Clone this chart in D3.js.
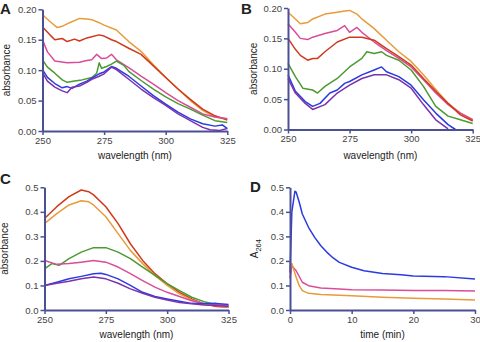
<!DOCTYPE html>
<html><head><meta charset="utf-8">
<script src="https://cdn.jsdelivr.net/npm/d3@7"></script>
<style>
body{margin:0;background:#fff;}
svg{display:block;font-family:Arial,"Liberation Sans",sans-serif;}
</style></head>
<body><svg id="c" width="480" height="342"></svg>
<script>
// ---------- DATA ----------
const colors = {orange:"#e89b3a", red:"#cf3a1c", pink:"#d94d98", green:"#4c9a32", blue:"#2b3be0", purple:"#7a32b0"};

// Panel A (wavelength nm, absorbance)
const A_orange=[[250,.191],[253,.180],[256,.170],[258,.172],[261,.178],[265,.185],[268,.184],[270,.183],[273,.178],[275,.174],[280,.166],[285,.147],[290,.131],[295,.109],[300,.088],[305,.069],[310,.050],[315,.034],[320,.023],[325,.020]];
const A_red=[[250,.171],[253,.158],[255,.150],[258,.152],[260,.147],[263,.151],[265,.148],[268,.153],[270,.155],[273,.158],[275,.156],[278,.150],[280,.147],[285,.136],[290,.126],[295,.107],[300,.088],[305,.069],[310,.052],[315,.036],[320,.025],[325,.018]];
const A_pink=[[250,.150],[252,.130],[255,.115],[260,.112],[265,.113],[268,.116],[270,.117],[272,.126],[274,.119],[276,.120],[278,.126],[280,.117],[285,.104],[290,.090],[295,.077],[300,.063],[305,.050],[310,.039],[315,.028],[320,.023],[325,.020]];
const A_green=[[250,.117],[252,.105],[255,.095],[258,.084],[260,.080],[263,.082],[266,.084],[270,.088],[272,.095],[273,.112],[274,.103],[276,.106],[278,.110],[280,.115],[283,.108],[285,.098],[290,.083],[295,.069],[300,.056],[305,.045],[310,.036],[315,.026],[320,.017],[325,.014]];
const A_blue=[[250,.101],[252,.088],[255,.078],[258,.071],[260,.073],[262,.070],[265,.077],[268,.082],[270,.087],[273,.094],[275,.097],[278,.106],[280,.103],[285,.090],[290,.074],[295,.058],[300,.044],[305,.031],[310,.020],[315,.012],[320,.008],[323,.010],[325,.004]];
const A_purple=[[250,.096],[252,.082],[255,.072],[258,.066],[260,.063],[262,.072],[265,.074],[268,.080],[270,.085],[273,.090],[275,.094],[278,.105],[280,.101],[285,.085],[290,.069],[295,.055],[300,.042],[305,.028],[310,.017],[315,.006],[318,.002],[322,.001],[325,.004]];

// Panel B
const B_orange=[[250,.193],[253,.182],[255,.174],[258,.176],[260,.182],[265,.190],[270,.193],[273,.195],[275,.196],[278,.190],[280,.182],[285,.166],[290,.147],[295,.128],[300,.112],[305,.090],[310,.066],[315,.043],[320,.027],[325,.016]];
const B_pink=[[250,.174],[253,.160],[255,.150],[258,.148],[260,.152],[265,.158],[270,.163],[273,.171],[275,.160],[278,.168],[280,.160],[285,.144],[290,.130],[295,.117],[300,.103],[305,.082],[310,.060],[315,.041],[320,.027],[325,.016]];
const B_red=[[250,.150],[253,.132],[255,.122],[258,.114],[260,.117],[262,.117],[265,.128],[270,.144],[275,.152],[280,.152],[285,.147],[290,.133],[295,.120],[300,.106],[305,.084],[310,.063],[315,.043],[320,.024],[325,.014]];
const B_green=[[250,.109],[253,.087],[256,.068],[260,.065],[262,.060],[265,.071],[270,.084],[275,.103],[280,.117],[282,.128],[285,.125],[288,.128],[290,.122],[295,.114],[300,.098],[305,.071],[310,.038],[315,.022],[320,.016],[325,.010]];
const B_blue=[[250,.090],[253,.063],[257,.046],[260,.038],[263,.043],[267,.060],[270,.065],[273,.076],[275,.079],[280,.090],[285,.098],[288,.103],[290,.095],[295,.087],[300,.073],[305,.049],[310,.027],[315,.008],[318,.000]];
const B_purple=[[250,.084],[253,.060],[257,.043],[260,.033],[265,.041],[270,.060],[275,.073],[280,.084],[285,.090],[290,.090],[295,.082],[300,.068],[305,.041],[310,.016],[315,.001]];

// Panel C
const C_red=[[250,.373],[255,.421],[260,.462],[265,.489],[268,.482],[270,.469],[275,.421],[280,.352],[285,.270],[290,.202],[295,.148],[300,.107],[305,.072],[310,.045],[315,.025],[320,.014],[325,.011]];
const C_orange=[[250,.352],[255,.393],[260,.428],[265,.445],[268,.441],[270,.428],[275,.380],[280,.311],[285,.243],[290,.189],[295,.141],[300,.100],[305,.066],[310,.041],[315,.025],[320,.018],[325,.011]];
const C_green=[[250,.168],[253,.189],[256,.182],[260,.209],[265,.236],[270,.254],[275,.254],[280,.236],[285,.209],[290,.175],[295,.141],[300,.107],[305,.079],[310,.052],[315,.034],[320,.022],[325,.018]];
const C_pink=[[250,.202],[255,.186],[260,.189],[265,.195],[270,.202],[275,.195],[280,.175],[285,.148],[290,.120],[295,.093],[300,.072],[305,.055],[310,.038],[315,.027],[320,.022],[325,.018]];
const C_blue=[[250,.100],[255,.113],[260,.127],[265,.137],[270,.148],[273,.150],[275,.145],[280,.127],[285,.100],[290,.072],[295,.055],[300,.045],[305,.036],[310,.027],[315,.025],[320,.027],[325,.022]];
const C_purple=[[250,.100],[255,.109],[260,.117],[265,.127],[270,.134],[275,.127],[280,.109],[285,.086],[290,.068],[295,.052],[300,.041],[305,.031],[310,.025],[315,.020],[320,.018],[325,.014]];

// Panel D (time min, A264)
const D_blue=[[0,.15],[0.3,.40],[0.8,.484],[1,.48],[1.5,.439],[2,.391],[3,.337],[4,.296],[5,.262],[6,.235],[7,.212],[8,.194],[10,.174],[12,.160],[15,.149],[18,.144],[20,.139],[25,.136],[30,.126]];
const D_pink=[[0,.13],[0.3,.18],[1,.160],[2,.113],[3,.099],[5,.090],[8,.086],[10,.083],[15,.082],[20,.079],[25,.079],[30,.077]];
const D_orange=[[0,.15],[0.3,.19],[1,.133],[1.5,.099],[2,.079],[3,.068],[5,.063],[10,.058],[15,.052],[20,.048],[25,.045],[30,.041]];

const ticksA=[0,0.05,0.10,0.15,0.20], ticksC=[0,0.1,0.2,0.3,0.4,0.5];
const ticksWl=[250,275,300,325], ticksT=[0,10,20,30];

// ---------- DRAW ----------
const svg=d3.select("#c");
const axisCol="#4a4f96", labCol="#444", titleCol="#222";

function panel(cfg){
  const g=svg.append("g");
  const x=d3.scaleLinear().domain(cfg.xd).range(cfg.xr);
  const y=d3.scaleLinear().domain(cfg.yd).range(cfg.yr);
  const line=d3.line().x(d=>x(d[0])).y(d=>y(d[1]));
  cfg.series.forEach(s=>{
    g.append("path").attr("d",line(s.data)).attr("fill","none")
     .attr("stroke",colors[s.c]).attr("stroke-width",1.5).attr("stroke-linejoin","round");
  });
  const xa=g.append("g").attr("transform",`translate(0,${cfg.yr[0]})`)
    .call(d3.axisBottom(x).tickValues(cfg.xt).tickSizeInner(4).tickSizeOuter(0).tickPadding(2).tickFormat(d3.format("d")));
  const ya=g.append("g").attr("transform",`translate(${cfg.xr[0]},0)`)
    .call(d3.axisLeft(y).tickValues(cfg.yt).tickSizeInner(4).tickSizeOuter(0).tickPadding(2).tickFormat(d3.format(cfg.yf)));
  [xa,ya].forEach(a=>{
    a.select(".domain").attr("stroke",axisCol).attr("stroke-width",2);
    a.selectAll(".tick line").attr("stroke",axisCol).attr("stroke-width",1.5);
    a.selectAll(".tick text").attr("fill",labCol).style("font-size","9.5px").style("font-family","Arial, 'Liberation Sans', sans-serif");
  });
  g.append("text").attr("x",(cfg.xr[0]+cfg.xr[1])/2).attr("y",cfg.xlY)
   .attr("text-anchor","middle").attr("fill",titleCol).style("font-size","10px").text(cfg.xl);
  const yl=g.append("text").attr("transform",`translate(${cfg.ylX},${(cfg.yr[0]+cfg.yr[1])/2}) rotate(-90)`)
   .attr("text-anchor","middle").attr("fill",titleCol).style("font-size","10px");
  if(cfg.ylSub){ yl.append("tspan").text(cfg.yl); yl.append("tspan").attr("dy",3).style("font-size","7.5px").text(cfg.ylSub); }
  else yl.text(cfg.yl);
  g.append("text").attr("x",cfg.lx).attr("y",cfg.ly).attr("fill",titleCol)
   .style("font-size","15px").style("font-weight","bold").text(cfg.letter);
}

panel({letter:"A",lx:0,ly:14,xd:[250,325],xr:[42.5,227.3],yd:[0,0.2],yr:[131,9.3],xt:ticksWl,yt:ticksA,yf:".2f",
  xl:"wavelength (nm)",xlY:159,yl:"absorbance",ylX:10,
  series:[{c:"orange",data:A_orange},{c:"red",data:A_red},{c:"pink",data:A_pink},{c:"green",data:A_green},{c:"blue",data:A_blue},{c:"purple",data:A_purple}]});
panel({letter:"B",lx:241,ly:14,xd:[250,325],xr:[288,472.7],yd:[0,0.2],yr:[129.5,8],xt:ticksWl,yt:ticksA,yf:".2f",
  xl:"wavelength (nm)",xlY:159,yl:"absorbance",ylX:257,
  series:[{c:"orange",data:B_orange},{c:"pink",data:B_pink},{c:"red",data:B_red},{c:"green",data:B_green},{c:"blue",data:B_blue},{c:"purple",data:B_purple}]});
panel({letter:"C",lx:0,ly:184,xd:[250,325],xr:[44.5,228.5],yd:[0,0.5],yr:[310,187.3],xt:ticksWl,yt:ticksC,yf:".1f",
  xl:"wavelength (nm)",xlY:338,yl:"absorbance",ylX:8,
  series:[{c:"red",data:C_red},{c:"orange",data:C_orange},{c:"green",data:C_green},{c:"pink",data:C_pink},{c:"blue",data:C_blue},{c:"purple",data:C_purple}]});
panel({letter:"D",lx:250,ly:192,xd:[0,30],xr:[290,475],yd:[0,0.5],yr:[310,187.3],xt:ticksT,yt:ticksC,yf:".1f",
  xl:"time (min)",xlY:338,yl:"A",ylSub:"264",ylX:258,
  series:[{c:"blue",data:D_blue},{c:"pink",data:D_pink},{c:"orange",data:D_orange}]});
</script></body></html>
